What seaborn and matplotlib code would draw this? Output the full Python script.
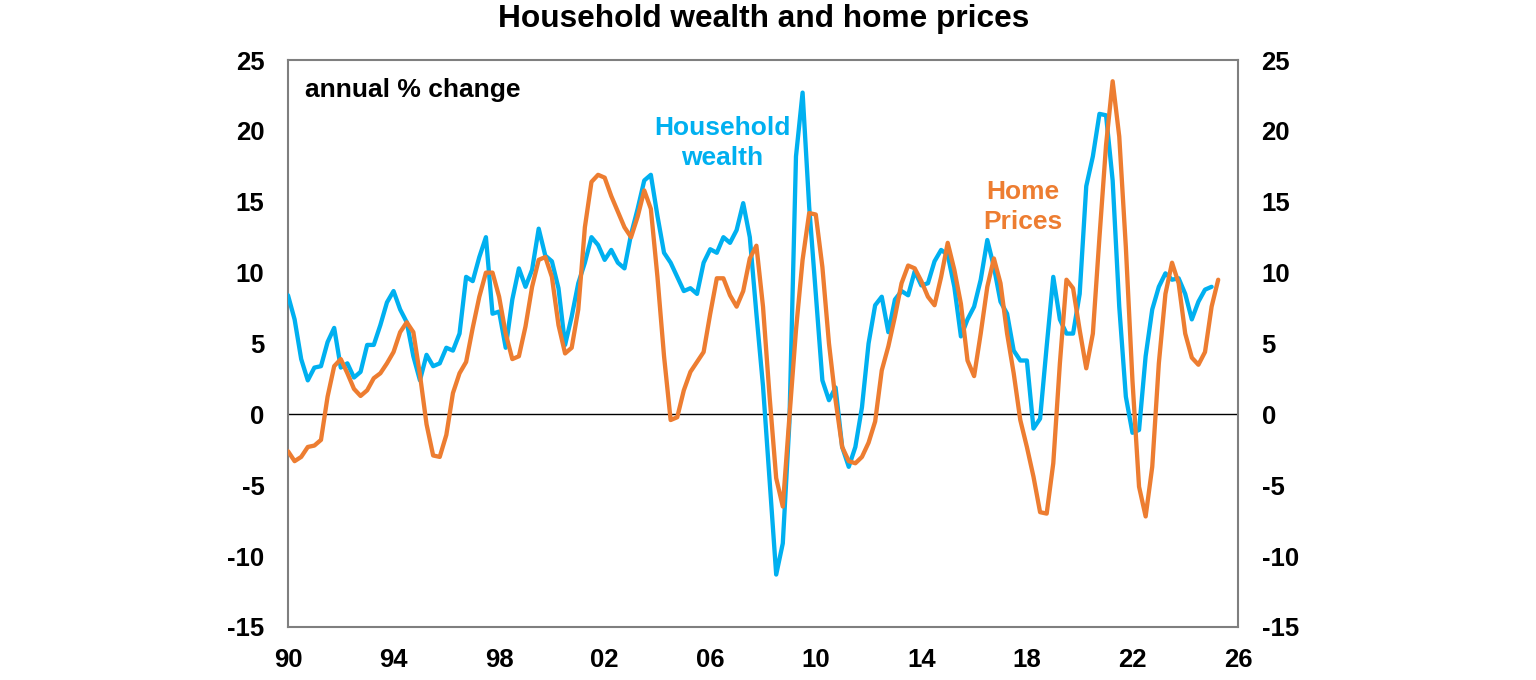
import numpy as np
import pandas as pd
import matplotlib
matplotlib.use("Agg")
import matplotlib.pyplot as plt
import seaborn as sns

# ---- data (annual % change, quarterly from 1990) ----
start_year = 1990
household_wealth = [
    8.4, 6.7, 3.9, 2.4, 3.3, 3.4, 5.1, 6.1, 3.3, 3.6, 2.6, 3.0, 4.9, 4.9, 6.3, 7.9,
    8.7, 7.4, 6.5, 4.1, 2.4, 4.2, 3.4, 3.6, 4.7, 4.5, 5.7, 9.7, 9.4, 11.1, 12.5, 7.1,
    7.25, 4.7, 8.1, 10.3, 9.0, 10.2, 13.1, 11.2, 10.8, 8.9, 4.9, 6.9, 9.25, 10.7, 12.5, 11.95,
    10.9, 11.6, 10.7, 10.3, 12.7, 14.5, 16.5, 16.9, 14.0, 11.4, 10.7, 9.7, 8.7, 8.9, 8.5, 10.7,
    11.65, 11.4, 12.5, 12.1, 13.0, 14.9, 12.5, 7.1, 2.0, -4.6, -11.3, -9.1, -0.6, 18.2, 22.7, 14.65,
    8.5, 2.4, 1.0, 1.9, -2.3, -3.7, -2.3, 0.5, 5.0, 7.7, 8.3, 5.8, 8.1, 8.7, 8.4, 10.1,
    9.1, 9.25, 10.8, 11.6, 11.25, 9.0, 5.5, 6.7, 7.6, 9.5, 12.3, 10.4, 7.95, 7.1, 4.5, 3.8,
    3.8, -1.0, -0.3, 4.8, 9.7, 6.7, 5.7, 5.7, 8.5, 16.1, 18.2, 21.2, 21.1, 16.5, 7.6, 1.25,
    -1.3, -1.1, 4.1, 7.4, 9.0, 9.95, 9.5, 9.6, 8.5, 6.7, 7.95, 8.8, 9.0,
]
home_prices = [
    -2.6, -3.3, -3.0, -2.3, -2.2, -1.8, 1.25, 3.4, 3.9, 2.9, 1.8, 1.3, 1.7, 2.55, 2.9, 3.6,
    4.4, 5.8, 6.5, 5.8, 2.8, -0.7, -2.9, -3.0, -1.45, 1.5, 2.9, 3.7, 6.1, 8.3, 10.0, 10.0,
    8.3, 5.7, 3.9, 4.1, 6.2, 9.0, 10.9, 11.1, 9.7, 6.3, 4.3, 4.7, 7.4, 13.2, 16.4, 16.9,
    16.7, 15.4, 14.3, 13.2, 12.5, 13.95, 15.8, 14.5, 9.7, 4.1, -0.4, -0.2, 1.7, 3.0, 3.7, 4.4,
    7.1, 9.6, 9.6, 8.4, 7.6, 8.7, 11.0, 11.9, 7.6, 1.25, -4.5, -6.5, -0.2, 5.95, 10.9, 14.2,
    14.1, 10.4, 5.0, 1.0, -2.3, -3.3, -3.45, -3.0, -2.0, -0.5, 3.1, 4.8, 6.9, 9.25, 10.5, 10.3,
    9.4, 8.3, 7.7, 9.7, 12.1, 10.2, 7.8, 3.8, 2.7, 5.7, 9.0, 11.0, 9.25, 5.7, 2.9, -0.4,
    -2.3, -4.4, -6.9, -7.0, -3.45, 3.6, 9.5, 8.9, 5.95, 3.25, 5.7, 12.5, 19.0, 23.5, 19.6, 11.8,
    2.4, -5.1, -7.2, -3.7, 3.6, 8.5, 10.7, 9.25, 5.7, 4.0, 3.5, 4.4, 7.6, 9.5,
]
x_tick_years = [1990, 1994, 1998, 2002, 2006, 2010, 2014, 2018, 2022, 2026]
x_tick_labels = ["90", "94", "98", "02", "06", "10", "14", "18", "22", "26"]
y_ticks = [-15, -10, -5, 0, 5, 10, 15, 20, 25]

BLUE = "#00B0F0"
ORANGE = "#ED7D31"

sns.set_theme(style="white")
plt.rcParams['font.family'] = ['Liberation Sans', 'DejaVu Sans']
plt.rcParams['axes.unicode_minus'] = False

df_w = pd.DataFrame({"year": start_year + np.arange(len(household_wealth)) / 4,
                     "value": household_wealth})
df_p = pd.DataFrame({"year": start_year + np.arange(len(home_prices)) / 4,
                     "value": home_prices})

fig = plt.figure(figsize=(15.36, 6.8), dpi=100)
ax = fig.add_axes([288 / 1536, 1 - 627 / 680, 950 / 1536, 567 / 680])

ax.axhline(0, color="black", lw=1.0, zorder=1)
sns.lineplot(data=df_w, x="year", y="value", color=BLUE, lw=3.1, ax=ax, zorder=3)
sns.lineplot(data=df_p, x="year", y="value", color=ORANGE, lw=3.1, ax=ax, zorder=4)

ax.set_xlim(1990, 2026)
ax.set_ylim(-15, 25)
ax.set_xticks(x_tick_years)
ax.set_xticklabels(x_tick_labels)
ax.set_yticks(y_ticks)
ax.set_yticklabels([str(v) for v in y_ticks])
ax.set_xlabel("")
ax.set_ylabel("")
ax.tick_params(axis="both", length=0, labelsize=18.5, labelcolor="black")
ax.tick_params(axis="x", pad=15)
ax.tick_params(axis="y", pad=17)
for lab in ax.get_xticklabels() + ax.get_yticklabels():
    lab.set_fontweight("bold")
for sp in ax.spines.values():
    sp.set_color("#7f7f7f")
    sp.set_linewidth(1.5)
    sp.set_visible(True)

ax2 = ax.twinx()
ax2.set_ylim(-15, 25)
ax2.set_yticks(y_ticks)
ax2.set_yticklabels([str(v) for v in y_ticks])
ax2.tick_params(axis="y", length=0, labelsize=18.5, pad=17, labelcolor="black")
for lab in ax2.get_yticklabels():
    lab.set_fontweight("bold")
for sp in ax2.spines.values():
    sp.set_visible(False)

fig.text(764 / 1536, 1 - 19 / 680, "Household wealth and home prices",
         ha="center", va="center", fontsize=22.8, fontweight="bold", color="black")
ax.text(0.018, 0.947, "annual % change", transform=ax.transAxes,
        ha="left", va="center", fontsize=19, fontweight="bold", color="black")
ax.text(2006.45, 19.15, "Household\nwealth", ha="center", va="center",
        fontsize=19, fontweight="bold", color=BLUE, linespacing=1.3)
ax.text(2017.85, 14.63, "Home\nPrices", ha="center", va="center",
        fontsize=19, fontweight="bold", color=ORANGE, linespacing=1.3)

fig.savefig("out.png", dpi=100)
